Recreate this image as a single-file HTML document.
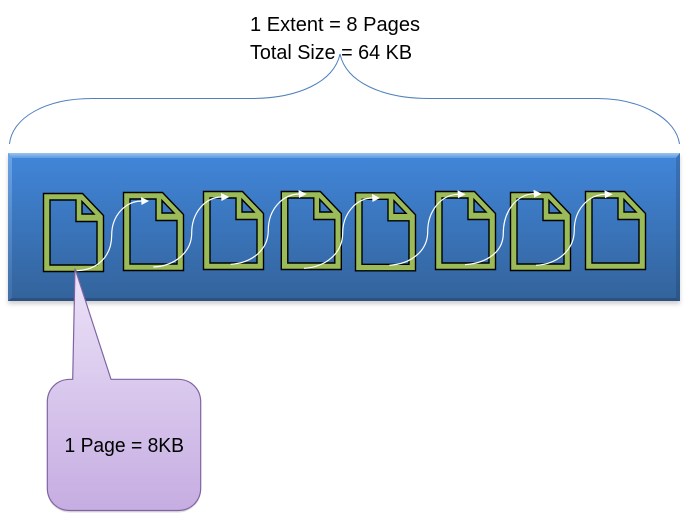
<!DOCTYPE html>
<html>
<head>
<meta charset="utf-8">
<style>
html,body{margin:0;padding:0;background:#fff;width:690px;height:523px;overflow:hidden}
svg{display:block}
text{font-family:"Liberation Sans",sans-serif;fill:#000}
</style>
</head>
<body>
<svg width="690" height="523" viewBox="0 0 690 523" xmlns="http://www.w3.org/2000/svg">
<defs>
<linearGradient id="blue" x1="0" y1="0" x2="0" y2="1">
<stop offset="0" stop-color="#4186da"/>
<stop offset="1" stop-color="#33639b"/>
</linearGradient>
<linearGradient id="top" x1="0" y1="0" x2="0" y2="1">
<stop offset="0" stop-color="#9cc3f0"/>
<stop offset="1" stop-color="#5d9ae2"/>
</linearGradient>
<linearGradient id="left" x1="0" y1="0" x2="0" y2="1">
<stop offset="0" stop-color="#6ba3e6"/>
<stop offset="1" stop-color="#3f6ea8"/>
</linearGradient>
<linearGradient id="right" x1="0" y1="0" x2="0" y2="1">
<stop offset="0" stop-color="#3a72b8"/>
<stop offset="1" stop-color="#2c5688"/>
</linearGradient>
<linearGradient id="purple" x1="0" y1="0" x2="0" y2="1">
<stop offset="0" stop-color="#ece3f8"/>
<stop offset="1" stop-color="#c6ade2"/>
</linearGradient>
<filter id="blur" x="-5%" y="-10%" width="110%" height="120%">
<feGaussianBlur stdDeviation="2"/>
</filter>
<g id="page">
<path fill="#9bbb59" fill-rule="evenodd" stroke="#000" stroke-width="1.400" stroke-linejoin="miter"
 d="M0 0H39L60 22V78H0Z M6.500 6.500V71.500H53.500V28H32.500V6.500Z M38.500 8V20.500H50.500Z"/>
</g>
</defs>

<text x="250" y="31" font-size="20" textLength="170" lengthAdjust="spacingAndGlyphs">1 Extent = 8 Pages</text>
<text x="250" y="59" font-size="20" textLength="162" lengthAdjust="spacingAndGlyphs">Total Size = 64 KB</text>

<path d="M9.500 144C12 118 45 98.500 92 98.500H251C298 98.500 334 82 340 54C346 82 382 98.500 429.500 98.500H597C640 98.500 676 118 679.500 144" fill="none" stroke="#4f81bd" stroke-width="1"/>

<rect x="8" y="156" width="672" height="148" fill="#888" opacity=".4" filter="url(#blur)"/>
<rect x="8" y="153" width="672" height="148" fill="url(#blue)"/>
<polygon points="8,153 680,153 676,158 12,158" fill="url(#top)"/>
<polygon points="8,153 12,158 12,298 8,301" fill="url(#left)"/>
<polygon points="680,153 676,158 676,298 680,301" fill="url(#right)"/>
<polygon points="8,301 12,298 676,298 680,301" fill="#2c5080"/>

<use href="#page" x="43.500" y="193.500"/>
<use href="#page" x="123.500" y="192.500"/>
<use href="#page" x="203.500" y="191.500"/>
<use href="#page" x="281.300" y="191.500"/>
<use href="#page" x="355.500" y="192.800"/>
<use href="#page" x="435.500" y="191.500"/>
<use href="#page" x="510.500" y="192.500"/>
<use href="#page" x="585.500" y="191.500"/>

<g fill="none" stroke="#fff" stroke-width="1.200">
<path d="M76.700 270.700C98 270 111.700 256 111.700 235C111.700 216 125 201 142 201"/>
<path d="M153.300 267C175 266 191.700 252 191.700 233C191.700 213 205 197 222 197"/>
<path d="M230.700 264.300C252 263 268.300 250 268.300 230C268.300 210 282 194 300 194"/>
<path d="M304 268.300C326 267 342.700 253 342.700 233C342.700 214 356 198 373 198"/>
<path d="M389.300 265.300C411 264 427.700 251 427.700 231.700C427.700 211 441 194.300 459 194.300"/>
<path d="M465 264.700C487 263 503.300 252 503.300 233.300C503.300 211 517 193.700 535 193.700"/>
<path d="M536 265.300C558 264 574.300 250 574.300 230C574.300 210 588 194.300 606 194.300"/>
</g>
<g fill="#fff">
<polygon points="149,201 141,197 141.500,205"/>
<polygon points="229.300,197 221,193 221.500,201"/>
<polygon points="306.700,194 298.500,190 299,198"/>
<polygon points="380,198 372,194 372.500,202"/>
<polygon points="465.700,194.300 457.500,190.300 458,198.300"/>
<polygon points="541.700,193.700 533.500,189.700 534,197.700"/>
<polygon points="612.700,194.300 604.500,190.300 605,198.300"/>
</g>

<path d="M75 268.500L111 379.300H178C191 379.300 200.700 389 200.700 402V488C200.700 501 191 510.500 178 510.500H70C57 510.500 47.300 501 47.300 488V402C47.300 389 57 379.300 70 379.300H72.700Z" fill="#9a9a9a" opacity=".35" transform="translate(0 2)"/>
<path d="M75 268.500L111 379.300H178C191 379.300 200.700 389 200.700 402V488C200.700 501 191 510.500 178 510.500H70C57 510.500 47.300 501 47.300 488V402C47.300 389 57 379.300 70 379.300H72.700Z" fill="url(#purple)" stroke="#8064a2" stroke-width="1.200"/>
<text x="64.500" y="452" font-size="20" textLength="119.500" lengthAdjust="spacingAndGlyphs">1 Page = 8KB</text>
</svg>
</body>
</html>
